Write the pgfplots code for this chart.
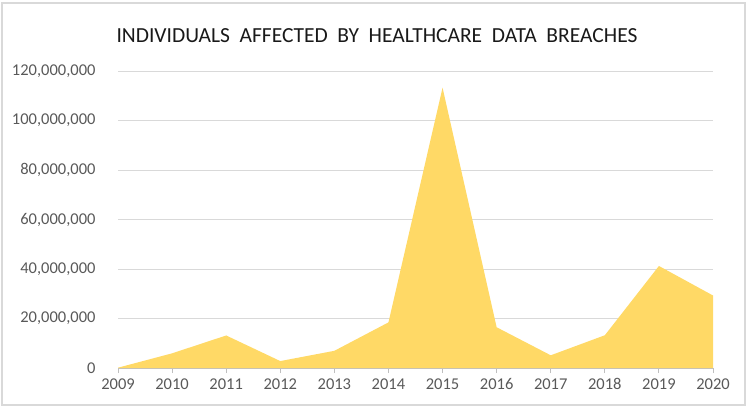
\documentclass[border=0pt]{standalone}
\usepackage{pgfplots}
\pgfplotsset{compat=1.18}
\usepackage{fontspec}
\setmainfont{Carlito}
\definecolor{areaY}{HTML}{FFD966}
\definecolor{tickgray}{HTML}{595959}
\definecolor{gridgray}{HTML}{D9D9D9}
\definecolor{axisgray}{HTML}{BFBFBF}
\begin{document}
\begin{tikzpicture}[x=1bp,y=1bp]
\path (0,0) rectangle (755,-412);
\draw[color=gridgray, line width=1.2bp] (2,-3) rectangle (745,-405);
\node[font=\fontsize{21.5bp}{24bp}\selectfont, anchor=base, text=black!90] at (377,-42) {INDIVIDUALS\hspace{0.45em}AFFECTED\hspace{0.45em}BY\hspace{0.45em}HEALTHCARE\hspace{0.45em}DATA\hspace{0.45em}BREACHES};
\begin{axis}[
  at={(118bp,-368bp)}, anchor=south west,
  scale only axis, width=595bp, height=297bp,
  xmin=2009, xmax=2020, ymin=0, ymax=120000000,
  xtick={2009,2010,2011,2012,2013,2014,2015,2016,2017,2018,2019,2020},
  ytick={0,20000000,40000000,60000000,80000000,100000000,120000000},
  axis lines=left,
  x axis line style={-, draw=axisgray, line width=1bp},
  y axis line style={draw=none},
  tick align=outside,
  major tick length=5bp,
  xtick style={draw=axisgray, line width=1bp},
  ytick style={draw=none},
  ymajorgrids,
  grid style={gridgray, line width=1bp},
  /pgf/number format/assume math mode=true,
  tick label style={font=\fontsize{16.5bp}{18bp}\selectfont, text=tickgray},
  scaled y ticks=false,
  yticklabel style={/pgf/number format/fixed, /pgf/number format/1000 sep={,}, xshift=-14bp},
  xticklabel style={/pgf/number format/1000 sep={}, yshift=-2bp},
]
\addplot[fill=areaY, draw=none] coordinates {
  (2009,134773) (2010,5932276) (2011,13150298) (2012,2808042)
  (2013,6950118) (2014,18436703) (2015,113267174) (2016,16471765)
  (2017,5138179) (2018,13236569) (2019,41232432) (2020,29298012)
} \closedcycle;
\end{axis}
\end{tikzpicture}
\end{document}
